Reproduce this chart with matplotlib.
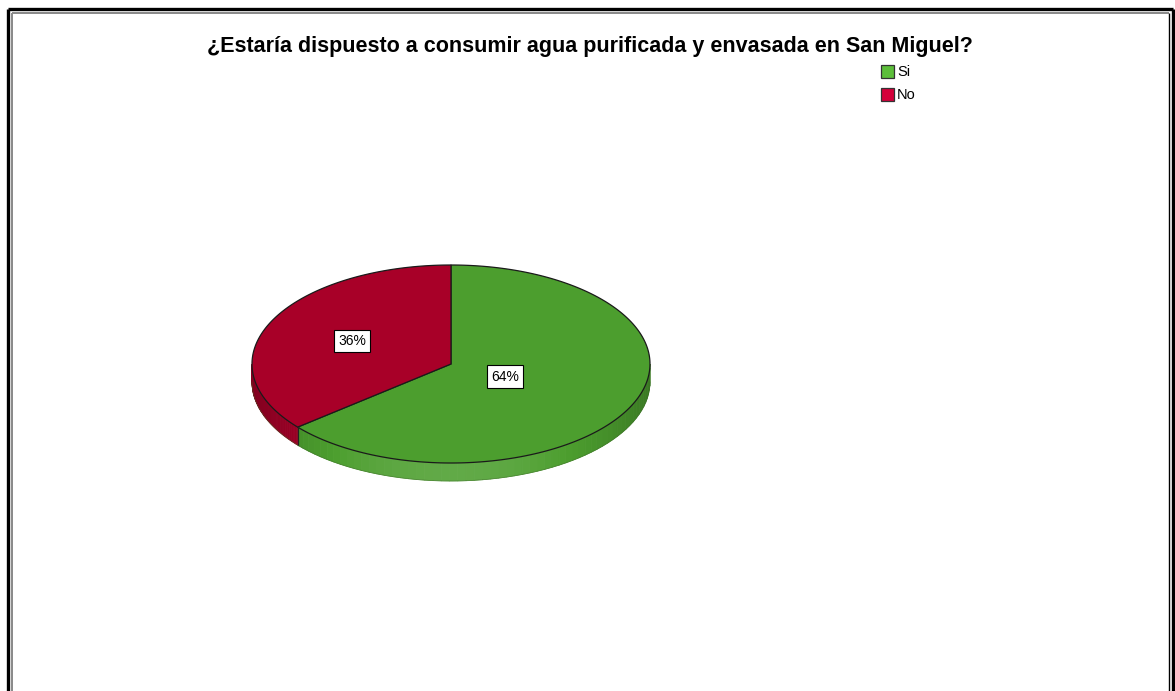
import numpy as np
import matplotlib.pyplot as plt
from matplotlib.patches import Polygon, Rectangle

categories = ["Si", "No"]
values = [64, 36]
title = "¿Estaría dispuesto a consumir agua purificada y envasada en San Miguel?"

top_colors = ["#4c9e2e", "#a80028"]
legend_colors = ["#5cbe3a", "#d4003a"]
label_factor = [0.30, 0.55]

W, H = 1175, 691
cx, cy, rx, ry, depth = 451, 364, 199, 99, 18


def ell(theta):
    t = np.radians(theta)
    return cx + rx * np.cos(t), cy - ry * np.sin(t)


def shade(color, k):
    c = np.array(plt.matplotlib.colors.to_rgb(color))
    if k >= 0:
        return tuple(c + (1 - c) * k)
    return tuple(c * (1 + k))


fig = plt.figure(figsize=(W / 100, H / 100), dpi=100)
ax = fig.add_axes([0, 0, 1, 1])
ax.set_xlim(0, W)
ax.set_ylim(H, 0)
ax.axis("off")

# frame
ax.plot([7.5, 7.5], [H, 8.5], color="black", lw=2.4, solid_capstyle="butt")
ax.plot([7.5, 1172.5], [8.5, 8.5], color="black", lw=2.4, solid_capstyle="butt")
ax.plot([1172.5, 1172.5], [8.5, H], color="black", lw=2.4, solid_capstyle="butt")
ax.plot([12, 12], [H, 12.5], color="#888888", lw=1.4, solid_capstyle="butt")
ax.plot([12, 1168.5], [12.5, 12.5], color="#888888", lw=1.4, solid_capstyle="butt")
ax.plot([1168.5, 1168.5], [12.5, H], color="black", lw=1.0, solid_capstyle="butt")

# wedge angles, clockwise from 12 o'clock
total = sum(values)
spans = [v / total * 360 for v in values]
starts = [90 - s for s in np.concatenate([[0], np.cumsum(spans)[:-1]])]

# sides (front half only)
for i, (st, sp) in enumerate(zip(starts, spans)):
    a0, a1 = st - sp, st
    for off in (0, 360, -360):
        lo, hi = max(a0 + off, -180), min(a1 + off, 0)
        if hi <= lo:
            continue
        steps = np.linspace(lo, hi, 60)
        for s0, s1 in zip(steps[:-1], steps[1:]):
            x0, y0 = ell(s0)
            x1, y1 = ell(s1)
            m = np.radians((s0 + s1) / 2)
            k = 0.12 - 0.35 * abs(np.cos(m)) ** 2
            poly = Polygon([(x0, y0), (x1, y1), (x1, y1 + depth), (x0, y0 + depth)],
                           closed=True, facecolor=shade(top_colors[i], k),
                           edgecolor=shade(top_colors[i], k), lw=0.6)
            ax.add_patch(poly)
        for a in (lo, hi):
            if -180 < a < 0:
                x, y = ell(a)
                ax.plot([x, x], [y, y + depth], color="#222222", lw=0.8)

# top faces
for i, (st, sp) in enumerate(zip(starts, spans)):
    th = np.linspace(st, st - sp, 200)
    xs, ys = ell(th)
    pts = [(cx, cy)] + list(zip(xs, ys))
    ax.add_patch(Polygon(pts, closed=True, facecolor=top_colors[i],
                         edgecolor="#1a1a1a", lw=0.9, joinstyle="miter"))

# outline of the side bottom
th = np.linspace(-180, 0, 200)
xs, ys = ell(th)
ax.plot(xs, ys + depth, color="#3a6a25", lw=0.5, alpha=0.6)

# labels
for i, (st, sp) in enumerate(zip(starts, spans)):
    mid = np.radians(st - sp / 2)
    x = cx + rx * label_factor[i] * np.cos(mid)
    y = cy - ry * label_factor[i] * np.sin(mid)
    ax.text(x, y, f"{values[i]}%", ha="center", va="center", fontsize=10,
            family="Liberation Sans",
            bbox=dict(boxstyle="square,pad=0.3", facecolor="white",
                      edgecolor="black", lw=0.8))

# title
ax.text(590, 46, title, ha="center", va="center", fontsize=15.5,
        fontweight="bold", family="Liberation Sans")

# legend
for i, cat in enumerate(categories):
    y = 65 + i * 23
    ax.add_patch(Rectangle((881, y), 13, 13, facecolor=legend_colors[i],
                           edgecolor="#333333", lw=0.9))
    ax.text(897, y + 7, cat, ha="left", va="center", fontsize=10.5,
            family="Liberation Sans")

fig.savefig("out.png", dpi=100)
